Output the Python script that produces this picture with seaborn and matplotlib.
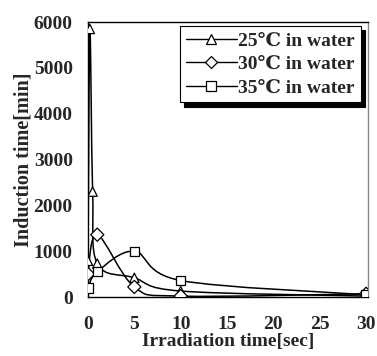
import numpy as np
import pandas as pd
import matplotlib
matplotlib.use("Agg")
import matplotlib.pyplot as plt
import seaborn as sns
from matplotlib.path import Path
from matplotlib.patches import PathPatch
from matplotlib.lines import Line2D

# data
x_25 = [0, 0.2, 0.5, 1, 5, 10, 30]
y_25 = [790, 5850, 2300, 730, 420, 130, 20]
x_30 = [0, 1, 5, 10, 30]
y_30 = [500, 1360, 220, 20, 70]
x_35 = [0, 1, 5, 10, 30]
y_35 = [200, 550, 1000, 360, 50]
labels = ["25℃ in water", "30℃ in water", "35℃ in water"]
markers = ["^", "D", "s"]

sns.set_style("white")
plt.rcParams["font.family"] = ["Liberation Serif", "DejaVu Serif"]
plt.rcParams["font.weight"] = "bold"

frames = []
for xs, ys, lab in zip([x_25, x_30, x_35], [y_25, y_30, y_35], labels):
    frames.append(pd.DataFrame({"x": xs, "y": ys, "series": lab}))
df = pd.concat(frames, ignore_index=True)

fig = plt.figure(figsize=(3.77, 3.56), dpi=100)
ax = fig.add_axes([0.2334, 0.1657, 0.976 - 0.2334, 0.938 - 0.1657])


def smooth_path(xs, ys):
    # excel-like bezier smoothing through the points
    p = np.column_stack([xs, ys]).astype(float)
    n = len(p)
    verts = [p[0]]
    codes = [Path.MOVETO]
    for i in range(n - 1):
        p0 = p[i - 1] if i > 0 else p[i]
        p3 = p[i + 2] if i + 2 < n else p[i + 1]
        c1 = p[i] + (p[i + 1] - p0) / 6
        c2 = p[i + 1] - (p3 - p[i]) / 6
        verts += [c1, c2, p[i + 1]]
        codes += [Path.CURVE4] * 3
    return Path(verts, codes)


for xs, ys in zip([x_25, x_30, x_35], [y_25, y_30, y_35]):
    ax.add_patch(PathPatch(smooth_path(xs, ys), facecolor="none",
                           edgecolor="black", lw=1.1, zorder=2))

sns.scatterplot(data=df, x="x", y="y", style="series", markers=dict(zip(labels, markers)),
                s=45, facecolor="white", edgecolor="black", linewidth=0.9,
                legend=False, ax=ax, zorder=3)

ax.set_xlim(0, 30.2)
ax.set_ylim(0, 6000)
ax.set_xticks([0, 5, 10, 15, 20, 25, 30])
ax.set_yticks([0, 1000, 2000, 3000, 4000, 5000, 6000])
ax.tick_params(direction="in", length=4, width=0.8, color="black", labelsize=14)
ax.tick_params(axis="x", pad=14)
ax.tick_params(axis="y", pad=11)
for t in ax.get_xticklabels() + ax.get_yticklabels():
    t.set_fontweight("bold")

for side in ["left", "top", "bottom"]:
    ax.spines[side].set_color("black")
    ax.spines[side].set_linewidth(1.0)
ax.spines["right"].set_color("#888888")
ax.spines["right"].set_linewidth(1.0)

ax.set_xlabel("Irradiation time[sec]", fontsize=14, fontweight="bold", labelpad=0)
ax.set_ylabel("Induction time[min]", fontsize=14.5, fontweight="bold", labelpad=0)

handles = [Line2D([], [], color="black", lw=1.0, marker=m, markersize=6.5,
                  markerfacecolor="white", markeredgecolor="black", markeredgewidth=0.9)
           for m in markers]
leg = ax.legend(handles, labels, loc="upper right", bbox_to_anchor=(0.975, 0.985),
                prop={"size": 14, "weight": "bold"}, handlelength=2.6,
                handletextpad=0.1, labelspacing=0.3, borderpad=0.3,
                frameon=True, fancybox=False, borderaxespad=0.0,
                shadow={"color": "black", "alpha": 1.0, "ox": 3, "oy": -3})
leg.get_frame().set_edgecolor("black")
leg.get_frame().set_linewidth(0.8)

fig.savefig("out.png", dpi=100)
